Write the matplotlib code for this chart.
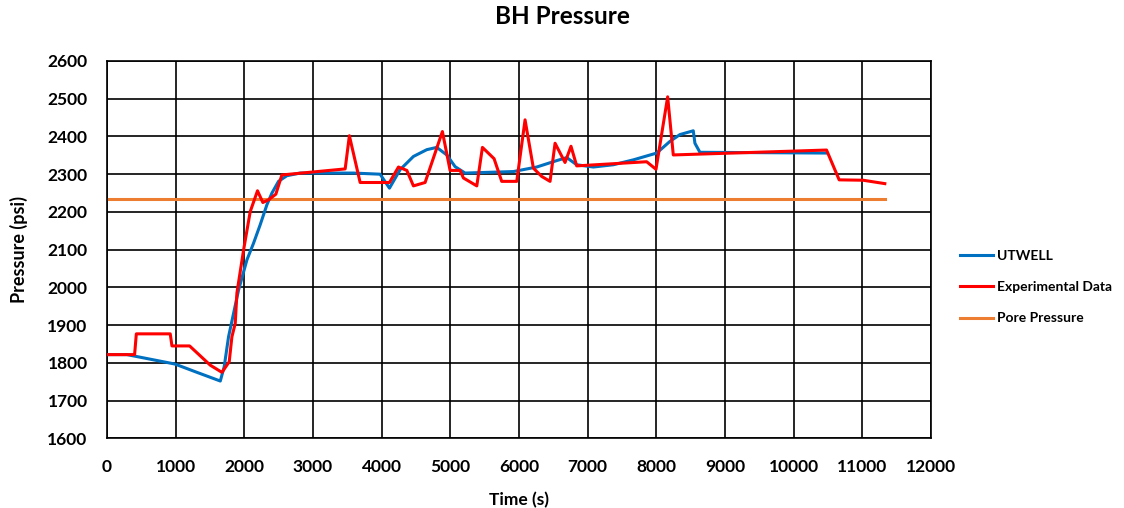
import matplotlib.pyplot as plt

# UTWELL simulation
ut_t = [0, 290, 990, 1310, 1650, 1707, 1770, 1916, 2038, 2134, 2231, 2329, 2402,
        2498, 2620, 2814, 3590, 3978, 4114, 4269, 4463, 4658, 4803, 4949, 5070,
        5215, 5919, 6259, 6550, 6696, 6841, 7083, 7375, 7666, 8006, 8200, 8345,
        8539, 8563, 8636, 10480]
ut_p = [1822, 1822, 1797, 1775, 1752, 1790, 1869, 1993, 2073, 2117, 2166, 2219, 2250,
        2281, 2296, 2303, 2303, 2300, 2263, 2312, 2347, 2365, 2371, 2351, 2320,
        2303, 2307, 2319, 2336, 2344, 2325, 2319, 2325, 2338, 2356, 2387, 2405,
        2415, 2382, 2358, 2356]

# Experimental data
ex_t = [0, 402, 427, 921, 946, 1203, 1504, 1674, 1780, 1819, 1868, 1892, 1989, 2086,
        2192, 2270, 2352, 2459, 2547, 3469, 3530, 3687, 4114, 4245, 4367, 4463, 4633,
        4885, 4997, 5143, 5191, 5386, 5468, 5638, 5749, 5968, 6089, 6210, 6332, 6453,
        6526, 6671, 6758, 6841, 7860, 7996, 8166, 8248, 10480, 10664, 11013, 11329]
ex_p = [1822, 1822, 1877, 1877, 1845, 1845, 1794, 1775, 1803, 1869, 1905, 1985, 2099, 2201,
        2256, 2225, 2232, 2247, 2298, 2314, 2402, 2278, 2278, 2319, 2310, 2269, 2278,
        2413, 2310, 2310, 2290, 2269, 2371, 2341, 2281, 2281, 2444, 2316, 2294, 2281,
        2382, 2331, 2374, 2322, 2333, 2313, 2505, 2351, 2364, 2285, 2284, 2275]

# Pore pressure
pore_t = [0, 11329]
pore_p = [2233, 2233]

plt.rcParams['font.family'] = ['Lato', 'DejaVu Sans']
plt.rcParams['font.weight'] = 'bold'

fig = plt.figure(figsize=(11.24, 5.08), dpi=100)
ax = fig.add_axes([0.0952, 0.137, 0.733, 0.743])

ax.plot(ut_t, ut_p, color='#0070C0', lw=2.2, label='UTWELL', zorder=3)
ax.plot(ex_t, ex_p, color='#FF0000', lw=2.2, label='Experimental Data', zorder=4)
ax.plot(pore_t, pore_p, color='#ED7D31', lw=2.2, label='Pore Pressure', zorder=2)

ax.set_xlim(0, 12000)
ax.set_ylim(1600, 2600)
ax.set_xticks(range(0, 12001, 1000))
ax.set_yticks(range(1600, 2601, 100))
ax.grid(True, color='black', lw=1.2)
ax.tick_params(axis='x', length=0, labelsize=12.5, pad=15)
ax.tick_params(axis='y', length=0, labelsize=12.5, pad=14)
for lab in ax.get_xticklabels() + ax.get_yticklabels():
    lab.set_fontweight('bold')
for s in ax.spines.values():
    s.set_color('black')
    s.set_linewidth(1.2)

ax.set_xlabel('Time (s)', fontsize=12.5, fontweight='bold', labelpad=12)
ax.set_ylabel('Pressure (psi)', fontsize=13, fontweight='bold', labelpad=14)
fig.suptitle('BH Pressure', fontsize=17.5, fontweight='bold', y=0.99)

leg = fig.legend(loc='center left', bbox_to_anchor=(0.843, 0.435), frameon=False,
                 fontsize=10, handlelength=2.4, labelspacing=1.4, handletextpad=0.25)
for t in leg.get_texts():
    t.set_fontweight('bold')

fig.savefig('out.png', dpi=100)
